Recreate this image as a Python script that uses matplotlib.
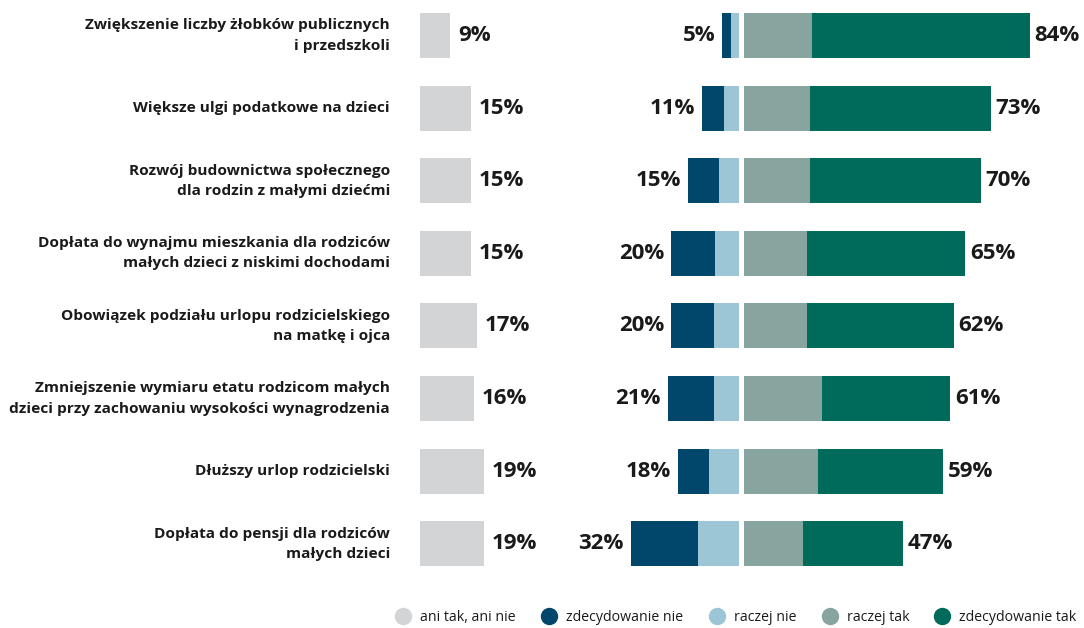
import matplotlib.pyplot as plt
from matplotlib.lines import Line2D
from matplotlib.transforms import blended_transform_factory

plt.rcParams['font.family'] = ['Open Sans', 'DejaVu Sans']

categories = [
    "Zwiększenie liczby żłobków publicznych\ni przedszkoli",
    "Większe ulgi podatkowe na dzieci",
    "Rozwój budownictwa społecznego\ndla rodzin z małymi dziećmi",
    "Dopłata do wynajmu mieszkania dla rodziców\nmałych dzieci z niskimi dochodami",
    "Obowiązek podziału urlopu rodzicielskiego\nna matkę i ojca",
    "Zmniejszenie wymiaru etatu rodzicom małych\ndzieci przy zachowaniu wysokości wynagrodzenia",
    "Dłuższy urlop rodzicielski",
    "Dopłata do pensji dla rodziców\nmałych dzieci",
]
neutral = [9, 15, 15, 15, 17, 16, 19, 19]
def_no = [2.5, 6.5, 9, 13, 12.5, 13.5, 9, 20]
rather_no = [2.5, 4.5, 6, 7, 7.5, 7.5, 9, 12]
rather_yes = [20, 19.5, 19.5, 18.5, 18.5, 23, 22, 17.5]
def_yes = [64.5, 53.5, 50.5, 47, 43.5, 38, 37, 29.5]
neg_labels = [5, 11, 15, 20, 20, 21, 18, 32]
pos_labels = [84, 73, 70, 65, 62, 61, 59, 47]

legend_names = ["ani tak, ani nie", "zdecydowanie nie", "raczej nie", "raczej tak", "zdecydowanie tak"]
colors = ["#D3D4D6", "#00476B", "#9CC5D5", "#87A59E", "#006A5B"]

W, H = 1084, 628
SCALE = 3.38          # pixels per percentage point
GAP = 0.75            # half gap around the centre
ROW_PX = 72.6
TOP_PX = 35.5
AX_H = 580

fig = plt.figure(figsize=(W / 100, H / 100), dpi=100)
ax_n = fig.add_axes([400 / W, (H - AX_H) / H, 160 / W, AX_H / H])
ax_d = fig.add_axes([560 / W, (H - AX_H) / H, 524 / W, AX_H / H])

ylim = ((AX_H - TOP_PX) / ROW_PX, -TOP_PX / ROW_PX)
ax_n.set_xlim(-20 / SCALE, 140 / SCALE)
ax_d.set_xlim(-(741.5 - 560) / SCALE, (W - 741.5) / SCALE)
for ax in (ax_n, ax_d):
    ax.set_ylim(*ylim)
    ax.axis('off')

y = list(range(len(categories)))
bh = 0.62
txt = "#1a1a1a"
vfs = 16

ax_n.barh(y, neutral, height=bh, color=colors[0])
for yi, v in zip(y, neutral):
    ax_n.annotate(f"{v}%", (v, yi), xytext=(5.5, 0), textcoords='offset points',
                  ha='left', va='center', fontsize=vfs, fontweight='bold', color=txt)

left_dn = [-GAP - a - b for a, b in zip(def_no, rather_no)]
left_rn = [-GAP - b for b in rather_no]
ax_d.barh(y, def_no, left=left_dn, height=bh, color=colors[1])
ax_d.barh(y, rather_no, left=left_rn, height=bh, color=colors[2])
ax_d.barh(y, rather_yes, left=GAP, height=bh, color=colors[3])
ax_d.barh(y, def_yes, left=[GAP + r for r in rather_yes], height=bh, color=colors[4])

for yi, l, lab in zip(y, left_dn, neg_labels):
    ax_d.annotate(f"{lab}%", (l, yi), xytext=(-5, 0), textcoords='offset points',
                  ha='right', va='center', fontsize=vfs, fontweight='bold', color=txt)
for yi, r, d, lab in zip(y, rather_yes, def_yes, pos_labels):
    ax_d.annotate(f"{lab}%", (GAP + r + d, yi), xytext=(3.5, 0), textcoords='offset points',
                  ha='left', va='center', fontsize=vfs, fontweight='bold', color=txt)

tr = blended_transform_factory(fig.transFigure, ax_n.transData)
for yi, c in zip(y, categories):
    fig.text(390 / W, yi, c, transform=tr, ha='right', va='center', fontsize=11.1,
             fontweight='bold', color=txt, linespacing=1.55, multialignment='right')

handles = [Line2D([], [], marker='o', linestyle='', markersize=11.5, color=c) for c in colors]
fig.legend(handles, legend_names, loc='lower right', bbox_to_anchor=(1.005, -0.016), ncol=5,
           frameon=False, handletextpad=0.2, columnspacing=1.35,
           labelcolor=txt, prop={'size': 10.2})

fig.savefig("out.png", dpi=100)
